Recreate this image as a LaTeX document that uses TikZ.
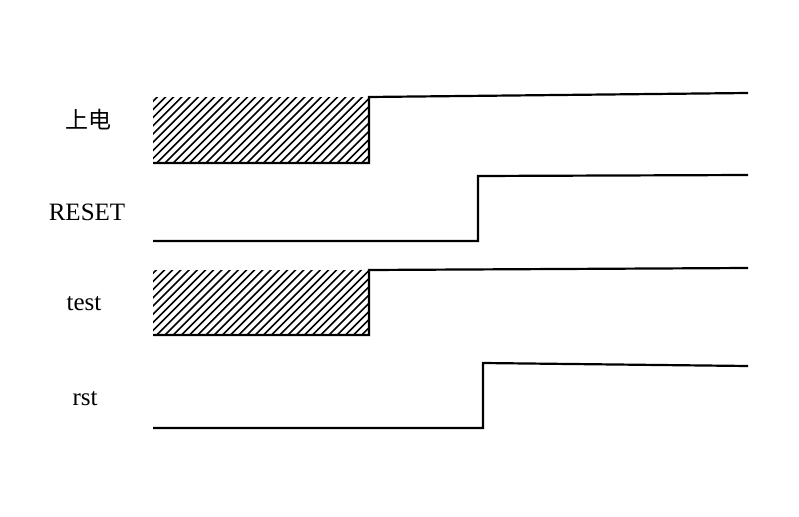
\documentclass[tikz,border=0pt]{standalone}
\usepackage{fontspec}
\setmainfont{Liberation Serif}
\newfontfamily\cjk{Noto Sans CJK SC}
\begin{document}
\begin{tikzpicture}[x=1pt,y=-1pt,
  wave/.style={line width=2.2pt,line join=miter},
  hatchline/.style={line width=1.6pt},
  lbl/.style={font=\fontsize{25}{28}\selectfont,inner sep=0pt}]
\useasboundingbox (0,0) rectangle (799,516);
% labels
\node[lbl] (pwr) at (88,120) {\cjk\fontsize{23}{26}\selectfont 上电};
\node[lbl] (reset) at (87,212) {RESET};
\node[lbl] (test) at (84,304) {test};
\node[lbl] (rst) at (85,399) {rst};
% hatched boxes
\foreach \ytop/\ybot in {98/163, 270/335}{
  \begin{scope}
    \clip (153,\ytop) rectangle (369,\ybot);
    \foreach \k in {0,...,40}{
      \draw[hatchline] (153+\k*8.2-70,\ybot) -- (153+\k*8.2,\ybot-70);
    }
  \end{scope}
}
% 上电
\draw[wave] (153,163) -- (369,163) -- (369,97) -- (748,93);
% RESET
\draw[wave] (153,241) -- (478,241) -- (478,176) -- (748,175);
% test
\draw[wave] (153,335) -- (369,335) -- (369,270) -- (748,268);
% rst
\draw[wave] (153,428) -- (483,428) -- (483,363) -- (748,366);
\end{tikzpicture}
\end{document}
